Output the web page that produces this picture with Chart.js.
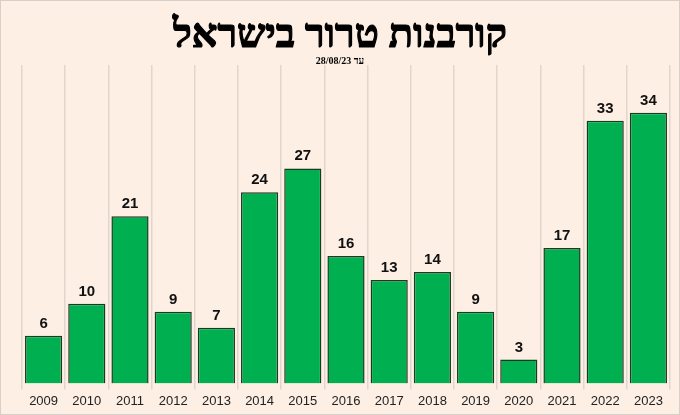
<!DOCTYPE html>
<html>
<head>
<meta charset="utf-8">
<script src="https://cdn.jsdelivr.net/npm/chart.js@4/dist/chart.umd.min.js"></script>
<style>
  html, body { margin: 0; padding: 0; background: #fdefe4; }
  #wrap { width: 680px; height: 415px; position: relative; }
</style>
</head>
<body>
<div id="wrap"><canvas id="c" width="680" height="415"></canvas></div>
<script>
const titleText = 'קורבנות טרור בישראל';
const subtitleText = 'עד 28/08/23';
const years = ['2009','2010','2011','2012','2013','2014','2015','2016','2017','2018','2019','2020','2021','2022','2023'];
const victims = [6, 10, 21, 9, 7, 24, 27, 16, 13, 14, 9, 3, 17, 33, 34];
const yMax = 40;

const bgPlugin = {
  id: 'bg',
  beforeDraw(chart) {
    const ctx = chart.ctx;
    ctx.save();
    ctx.fillStyle = '#fdefe4';
    ctx.fillRect(0, 0, chart.width, chart.height);
    ctx.restore();
  },
  afterDraw(chart) {
    const ctx = chart.ctx;
    ctx.save();
    ctx.strokeStyle = '#d8cfc8';
    ctx.lineWidth = 1;
    ctx.strokeRect(0.5, 0.5, chart.width - 1, chart.height - 1);
    ctx.restore();
  }
};

const headPlugin = {
  id: 'head',
  afterDraw(chart) {
    const ctx = chart.ctx;
    const cx = chart.width / 2;
    ctx.save();
    ctx.direction = 'rtl';
    ctx.textAlign = 'center';
    ctx.textBaseline = 'alphabetic';
    ctx.fillStyle = '#000';
    ctx.strokeStyle = '#000';
    ctx.lineWidth = 1.2;
    ctx.lineJoin = 'round';
    ctx.font = 'bold 40px "Liberation Serif", "DejaVu Serif", serif';
    ctx.fillText(titleText, cx, 47);
    ctx.strokeText(titleText, cx, 47);
    ctx.font = 'bold 10px "Liberation Serif", "DejaVu Serif", serif';
    ctx.fillText(subtitleText, cx, 64);
    ctx.restore();
  }
};

const labelPlugin = {
  id: 'vals',
  afterDatasetsDraw(chart) {
    const ctx = chart.ctx;
    const meta = chart.getDatasetMeta(0);
    ctx.save();
    ctx.font = 'bold 15px "Liberation Sans", Arial, sans-serif';
    ctx.fillStyle = '#111';
    ctx.textAlign = 'center';
    ctx.textBaseline = 'alphabetic';
    meta.data.forEach((bar, i) => {
      ctx.fillText(String(victims[i]), bar.x, bar.y - 8);
    });
    ctx.restore();
  }
};

new Chart(document.getElementById('c'), {
  type: 'bar',
  data: {
    labels: years,
    datasets: [{
      data: victims,
      backgroundColor: '#00b050',
      borderColor: '#1c3a22',
      borderWidth: 1.5,
      barPercentage: 0.86,
      categoryPercentage: 1.0
    }]
  },
  options: {
    responsive: false,
    animation: false,
    layout: { padding: { left: 22, right: 10, top: 65, bottom: 2 } },
    plugins: { legend: { display: false }, title: { display: false }, tooltip: { enabled: false } },
    scales: {
      x: {
        grid: { display: true, offset: true, color: '#e2d6cc', lineWidth: 1.5, tickLength: 6, drawTicks: true },
        border: { display: false },
        ticks: { color: '#222', font: { family: '"Liberation Sans", Arial, sans-serif', size: 13 }, padding: 4, maxRotation: 0 }
      },
      y: {
        display: false,
        min: 0,
        max: yMax
      }
    }
  },
  plugins: [bgPlugin, headPlugin, labelPlugin]
});
</script>
</body>
</html>
